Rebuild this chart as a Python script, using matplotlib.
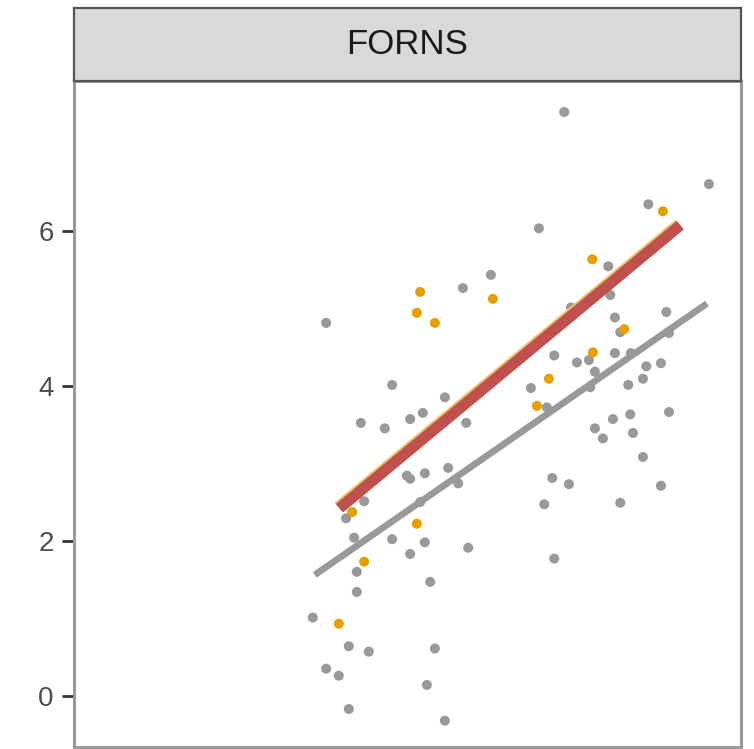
import matplotlib
matplotlib.use("Agg")
import matplotlib.pyplot as plt
import matplotlib.transforms as mtransforms

plt.rcParams['font.family'] = ['Liberation Sans', 'DejaVu Sans']

panel_title = "FORNS"

# Grey observations
grey_x = [7.35, 9.52, 8.61, 6.97, 8.01, 6.25, 5.83, 8.04, 3.78, 7.45,
          8.11, 8.88, 8.19, 8.92, 7.20, 7.54, 7.72, 8.11, 8.35, 8.58,
          8.80, 7.81, 8.31, 8.53, 7.74, 6.85, 7.09, 8.92, 8.34, 8.08,
          7.81, 7.93, 8.38, 8.53, 7.17, 7.42, 8.80, 7.05, 8.19, 7.20,
          4.77, 5.56, 5.23, 5.04, 4.30, 4.66, 5.88, 4.99, 5.04, 5.26,
          5.61, 5.76, 4.35, 5.19, 4.08, 4.20, 4.77, 5.26, 5.04, 5.91,
          4.24, 5.34, 4.24, 3.58, 4.12, 4.42, 5.41, 3.78, 3.97, 5.29,
          4.12, 5.56]
grey_y = [7.53, 6.60, 6.34, 6.03, 5.54, 5.43, 5.26, 5.17, 4.81, 5.01,
          4.88, 4.95, 4.69, 4.68, 4.39, 4.30, 4.33, 4.42, 4.42, 4.25,
          4.29, 4.18, 4.01, 4.09, 3.98, 3.97, 3.72, 3.66, 3.63, 3.57,
          3.45, 3.32, 3.39, 3.08, 2.81, 2.73, 2.71, 2.47, 2.49, 1.77,
          4.01, 3.85, 3.65, 3.57, 3.52, 3.45, 3.52, 2.84, 2.80, 2.87,
          2.94, 2.74, 2.51, 2.50, 2.29, 2.04, 2.02, 1.98, 1.83, 1.91,
          1.60, 1.47, 1.34, 1.01, 0.64, 0.57, 0.61, 0.35, 0.26, 0.14,
          -0.17, -0.32]

# Highlighted observations
orange_x = [8.83, 7.77, 5.19, 6.28, 5.14, 5.41, 8.25, 7.78, 7.12, 6.94,
            4.17, 5.14, 4.35, 3.97]
orange_y = [6.25, 5.63, 5.21, 5.12, 4.94, 4.81, 4.73, 4.43, 4.09, 3.74,
            2.37, 2.22, 1.73, 0.93]

# Fitted trends (endpoints of each fit over its x range)
grey_fit_x = [3.61, 9.49]
grey_fit_y = [1.56, 5.06]
orange_fit_x = [3.98, 9.09]
orange_fit_y = [2.42, 6.07]

y_ticks = [0, 2, 4, 6]

W, H = 754, 749
fig = plt.figure(figsize=(W / 100, H / 100), dpi=100)
fig.patch.set_facecolor('white')

# main panel
ax = fig.add_axes([74 / W, (H - 747) / H, (741 - 74) / W, (747 - 81) / H])
ax.set_xlim(0, 10)
ax.set_ylim(-0.66, 7.93)

ax.scatter(grey_x, grey_y, s=52, color='#999999', edgecolors='none', zorder=2)
ax.scatter(orange_x, orange_y, s=52, color='#E69F00', edgecolors='none', zorder=2)

ax.plot(grey_fit_x, grey_fit_y, color='#999999', lw=4.8,
        solid_capstyle='butt', zorder=3)

halo = mtransforms.offset_copy(ax.transData, fig=fig, x=-1.0, y=1.0, units='points')
ax.plot(orange_fit_x, orange_fit_y, color='#f2c46e', lw=8.0,
        solid_capstyle='butt', transform=halo, zorder=3.5)
ax.plot(orange_fit_x, orange_fit_y, color='#c0504d', lw=8.0,
        solid_capstyle='butt', zorder=4)

ax.set_yticks(y_ticks)
ax.set_yticklabels([str(t) for t in y_ticks])
ax.set_xticks([])
ax.tick_params(axis='y', length=8.5, width=2.0, color='#333333',
               labelsize=20, labelcolor='#4d4d4d', pad=6)
for sp in ax.spines.values():
    sp.set_color('#9a9a9a')
    sp.set_linewidth(2.2)

# strip header
sx = fig.add_axes([74 / W, (H - 81) / H, (741 - 74) / W, (81 - 8) / H])
sx.set_facecolor('#d9d9d9')
sx.set_xticks([])
sx.set_yticks([])
for sp in sx.spines.values():
    sp.set_color('#555555')
    sp.set_linewidth(1.6)
sx.text(0.5, 0.5, panel_title, ha='center', va='center', fontsize=25,
        color='#1a1a1a', transform=sx.transAxes)

fig.savefig('out.png', dpi=100, facecolor='white')
